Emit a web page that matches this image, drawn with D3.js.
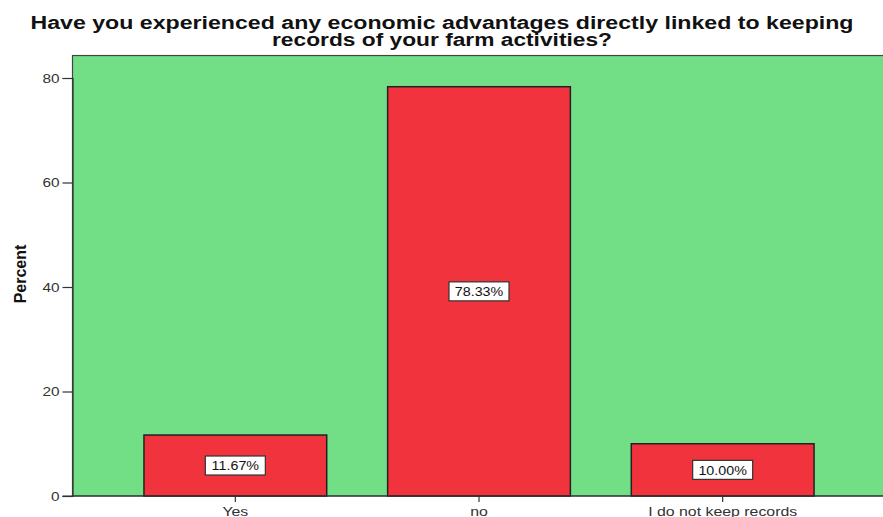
<!DOCTYPE html>
<html>
<head>
<meta charset="utf-8">
<script src="https://cdn.jsdelivr.net/npm/d3@7"></script>
<style>
  html, body { margin: 0; padding: 0; background: #fff; }
  svg { display: block; }
</style>
</head>
<body>
<svg id="chart" width="883" height="517"></svg>
<script>
// Survey answers and their shares (percent of respondents)
const categories = ["Yes", "no", "I do not keep records"];
const percents = [11.67, 78.33, 10.00];
const yTicks = [0, 20, 40, 60, 80];
const titleLines = [
  "Have you experienced any economic advantages directly linked to keeping",
  "records of your farm activities?"
];

const FONT = "Liberation Sans, Arial, sans-serif";
const plot = { left: 72.5, right: 895, top: 55.5, bottom: 496 };

const svg = d3.select("#chart");

// Widen text horizontally by factor k (the chart uses a wide sans face)
function stretch(sel, k) {
  sel.each(function () {
    const len = this.getComputedTextLength();
    d3.select(this)
      .attr("textLength", len * k)
      .attr("lengthAdjust", "spacingAndGlyphs");
  });
}

const y = d3.scaleLinear().domain([0, 80]).range([plot.bottom, 78]);
const x = d3.scaleBand()
  .domain(categories)
  .range([113.5, 844.5])
  .paddingInner(0.25)
  .paddingOuter(0.125);

// Plot background
svg.append("rect")
  .attr("x", plot.left).attr("y", y(84.3))
  .attr("width", plot.right - plot.left)
  .attr("height", plot.bottom - y(84.3))
  .attr("fill", "#72de86")
  .attr("stroke", "#444")
  .attr("stroke-width", 1.2);

// Bars
svg.append("g").selectAll("rect")
  .data(percents)
  .join("rect")
  .attr("x", (d, i) => x(categories[i]))
  .attr("y", d => y(d))
  .attr("width", x.bandwidth())
  .attr("height", d => plot.bottom - y(d))
  .attr("fill", "#f0333c")
  .attr("stroke", "#222")
  .attr("stroke-width", 1.5);

// Y axis
const yAxis = svg.append("g")
  .attr("transform", `translate(${plot.left},0)`)
  .call(d3.axisLeft(y).tickValues(yTicks).tickSize(10).tickPadding(3).tickFormat(d3.format("d")));
yAxis.select(".domain").attr("stroke", "#333").attr("stroke-width", 1.2);
yAxis.selectAll(".tick line").attr("stroke", "#333").attr("stroke-width", 1.2);
yAxis.selectAll(".tick text")
  .attr("font-family", FONT)
  .attr("font-size", 13).attr("fill", "#333")
  .call(stretch, 1.18);

// X axis
const xAxis = svg.append("g")
  .attr("transform", `translate(0,${plot.bottom})`)
  .call(d3.axisBottom(x).tickSize(6).tickPadding(5));
xAxis.select(".domain").remove();
svg.append("line")
  .attr("x1", plot.left - 10).attr("x2", plot.right)
  .attr("y1", plot.bottom).attr("y2", plot.bottom)
  .attr("stroke", "#333").attr("stroke-width", 1.2);
xAxis.selectAll(".tick line").attr("stroke", "#333").attr("stroke-width", 1.2);
xAxis.selectAll(".tick text")
  .attr("font-family", FONT)
  .attr("font-size", 13).attr("fill", "#333")
  .call(stretch, 1.22);

// Value labels in boxes at mid-height of each bar
const labels = svg.append("g").selectAll("g")
  .data(percents)
  .join("g")
  .attr("transform", (d, i) => `translate(${x(categories[i]) + x.bandwidth() / 2},${y(d / 2)})`);
labels.append("rect")
  .attr("x", -30).attr("y", -9.5)
  .attr("width", 60).attr("height", 19)
  .attr("fill", "#fff")
  .attr("stroke", "#333").attr("stroke-width", 1.2);
labels.append("text")
  .attr("text-anchor", "middle")
  .attr("dy", "0.36em")
  .attr("font-family", FONT)
  .attr("font-size", 13).attr("fill", "#111")
  .text(d => d3.format(".2f")(d) + "%")
  .call(stretch, 1.1);

// Y axis title
svg.append("text")
  .attr("transform", "translate(26,274) rotate(-90)")
  .attr("text-anchor", "middle")
  .attr("font-family", FONT)
  .attr("font-weight", "bold")
  .attr("font-size", 16).attr("fill", "#111")
  .text("Percent");

// Chart title, two centred lines
const titleWidths = [823, 340];
svg.append("g").selectAll("text")
  .data(titleLines)
  .join("text")
  .attr("x", 442).attr("y", (d, i) => 28.5 + i * 17)
  .attr("text-anchor", "middle")
  .attr("font-family", FONT)
  .attr("font-weight", "bold")
  .attr("font-size", 17.5).attr("fill", "#111")
  .attr("textLength", (d, i) => titleWidths[i])
  .attr("lengthAdjust", "spacingAndGlyphs")
  .text(d => d);
</script>
</body>
</html>
